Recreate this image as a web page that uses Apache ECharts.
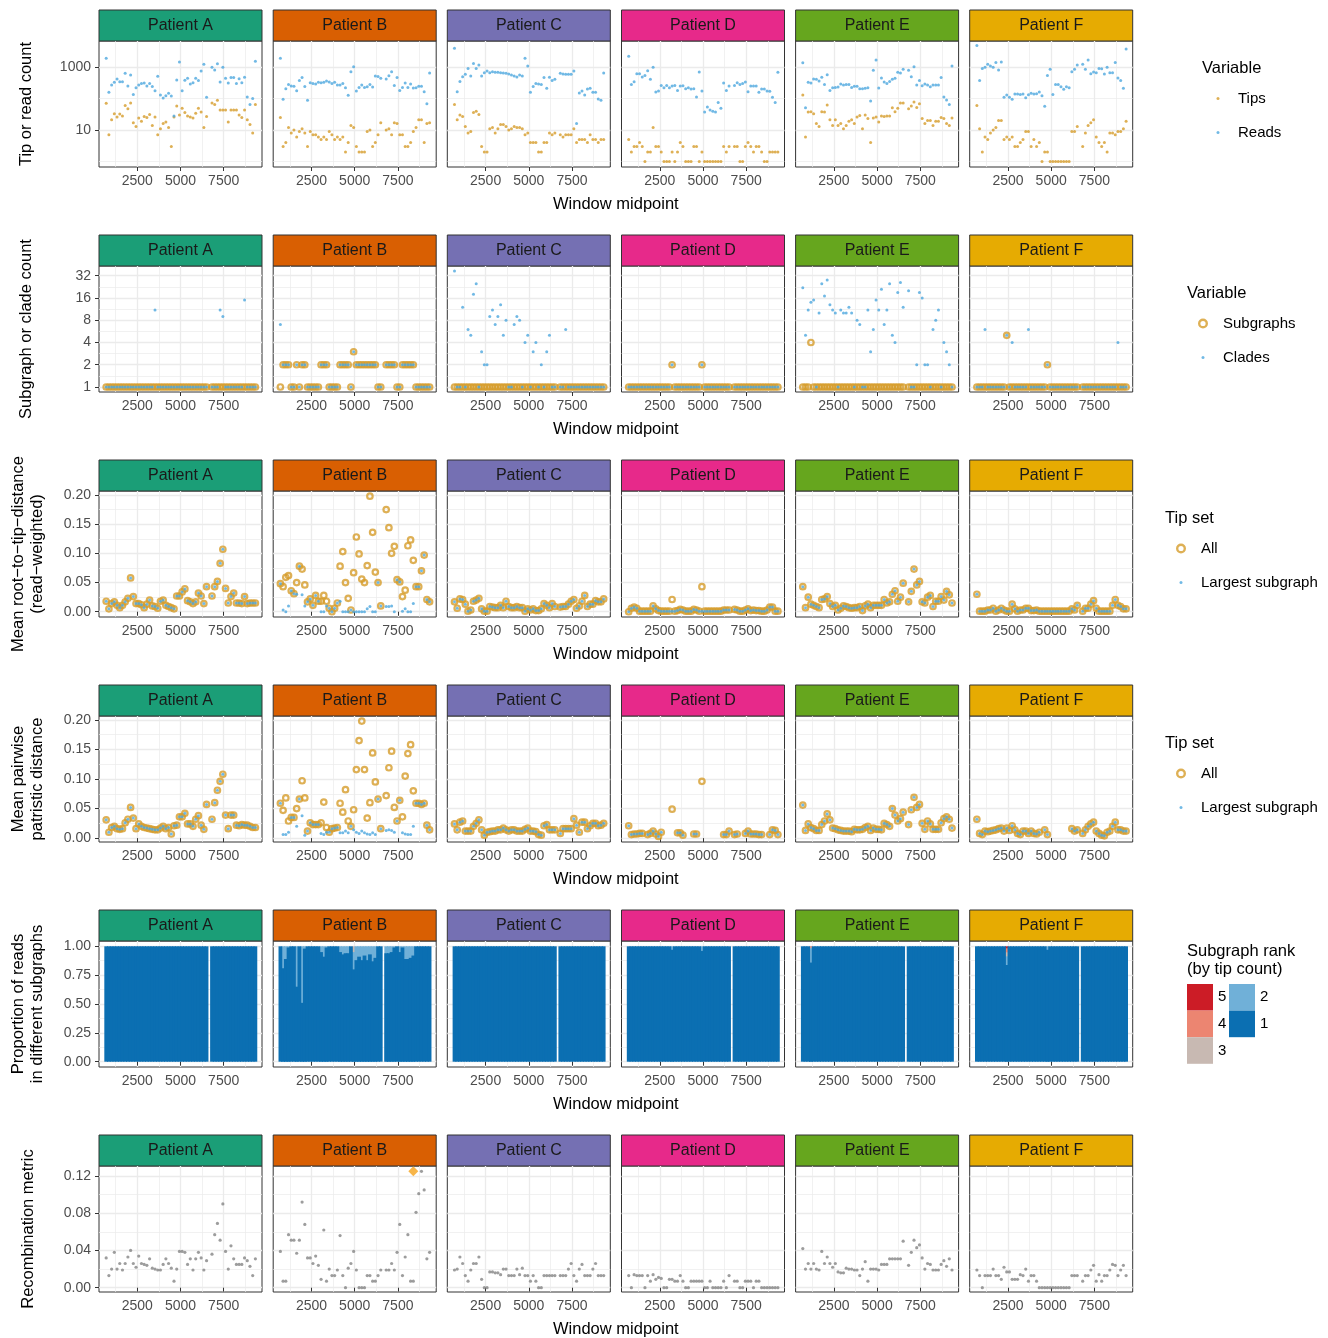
<!DOCTYPE html>
<html lang="en">
<head>
<meta charset="UTF-8">
<title>Window summaries by patient</title>
<script src="https://cdn.jsdelivr.net/npm/echarts@6/dist/echarts.min.js"></script>
<style>html,body{margin:0;background:#fff}#main{width:1328px;height:1338px}</style>
</head>
<body>
<div id="main"></div>
<script type="text/javascript">
// window midpoints (bp); window 38 has no data in any patient
var windowMid = [700,857,1014,1171,1328,1485,1642,1799,1956,2113,2270,2427,2584,2741,2898,3055,3212,3369,3526,3683,3840,3997,4154,4311,4468,4625,4782,4939,5096,5253,5410,5567,5724,5881,6038,6195,6352,6509,6666,6823,6980,7137,7294,7451,7608,7765,7922,8079,8236,8393,8550,8707,8864,9021,9178,9335];
var patients = ['A', 'B', 'C', 'D', 'E', 'F'];
var xTicks = [2500, 5000, 7500];

// row 1: tip and read counts
var tipsA = [70,7,21,33,26,32,28,60,47,72, 17,13,24,19,27,25,31,14,26,7, 11,16,18,12,3,26,58,30,49,36, 28,26,24,34,49,37,12,27, null, 72,65,88,43,43,43,18,43,43,43,30,25,43,21,15,8,65];
var readsA = [1900,157,270,326,415,340,340,630,250,560, 135,220,270,300,310,250,300,240,177,505, 130,104,123,146,120,28,387,1440,177,377, 437,290,318,437,370,746,1215,109, null, 975,800,1276,333,975,437,310,460,460,300,425,318,470,111,65,100,1510];
var tipsB = [25,3,4,12,8,10,6,9,11,8, 3,9,7,7,6,5,6,5,9,7, 5,6,5,6,2,4,14,12,3,2, 2,2,9,10,3,4,7,17, null, 10,11,7,17,16,7,7,3,3,4,9,12,21,21,4,16,17];
var readsB = [1900,95,205,280,250,245,175,370,460,240, 88,318,300,290,326,318,326,360,333,300, 326,270,270,300,220,127,710,1020,172,225, 270,225,235,280,230,520,500,440, null, 415,530,710,260,460,180,225,310,225,290,215,220,245,245,165,68,640];
var tipsC = [65,21,30,27,13,8,9,36,39,31, 3,2,2,11,12,8,11,15,15,13, 10,11,13,12,12,11,7,8,4,4, 4,2,2,4,4,8,7,8, null, 7,6,7,7,7,11,4,5,5,5,4,7,5,5,4,5,5];
var readsC = [3900,165,345,490,585,900,520,1300,900,1160, 520,660,750,660,710,680,680,660,640,630, 600,560,520,480,560,520,1900,1080,157,240, 300,290,280,460,210,470,370,405, null, 630,600,585,585,585,750,16,150,172,130,200,210,157,157,97,88,640];
var tipsD = [5,2,3,3,4,3,1,2,2,12, 3,3,2,1,1,1,2,1,2,4, 3,1,1,1,3,3,1,2,1,1, 1,1,1,1,1,3,2,3, null, 3,3,1,1,3,4,3,2,3,3,2,1,1,2,2,2,2];
var readsD = [2200,280,340,610,610,480,540,765,405,980, 160,172,260,220,260,220,250,260,180,250, 255,205,220,200,205,112,690,172,37,54, 43,39,37,75,49,310,180,250, null, 260,318,280,300,333,165,250,250,250,157,200,200,172,170,110,74,680];
var tipsE = [130,6,37,38,33,16,13,38,37,62, 21,14,21,14,16,11,14,19,21,16, 26,29,11,30,23,4,24,26,18,28, 27,28,28,51,38,49,72,72, null, 47,58,77,52,68,23,16,20,20,14,19,19,25,23,16,14,24];
var readsE = [1370,51,326,310,415,405,360,470,280,570, 180,220,225,230,290,270,280,280,225,245, 245,205,205,210,220,83,785,1670,215,450, 333,300,345,405,437,680,640,845, null, 785,490,1020,270,370,255,290,270,235,270,270,270,460,112,90,65,1080];
var tipsF = [60,11,2,6,5,8,10,12,20,20, 5,6,5,6,3,3,4,5,9,9, 3,5,3,4,1,2,2,1,1,1, 1,1,1,1,1,9,9,13, null, 3,8,14,17,21,6,4,3,4,2,8,8,7,9,9,11,19];
var readsF = [4780,370,900,980,1215,1080,980,1400,800,1440, 109,130,109,95,138,138,135,138,106,132, 146,138,142,160,123,57,540,845,135,280, 280,237,195,237,220,710,845,1160, null, 1215,845,1670,610,690,660,900,885,600,980,660,660,1400,450,375,210,3730];

// row 2: subgraph and clade counts
var subA = [1,1,1,1,1,1,1,1,1,1, 1,1,1,1,1,1,1,1,1,1, 1,1,1,1,1,1,1,1,1,1, 1,1,1,1,1,1,1,1, null, 1,1,1,1,1,1,1,1,1,1,1,1,1,1,1,1,1];
var cladeA = [1,1,1,1,1,1,1,1,1,1, 1,1,1,1,1,1,1,1,11,1, 1,1,1,1,1,1,1,1,1,1, 1,1,1,1,1,1,1,1, null, 1,1,1,11,9,1,1,1,1,1,1,1,15,1,1,1,1];
var subB = [1,2,2,2,1,1,2,1,2,2, 1,1,1,1,1,2,2,2,1,1, 1,1,2,2,2,2,1,3,2,2, 2,2,2,2,2,2,1,1, null, 2,2,2,2,1,1,2,2,2,2,2,1,1,1,1,1,1];
var cladeB = [7,2,2,2,1,1,2,1,2,2, 1,1,1,1,1,2,2,2,1,1, 1,1,2,2,2,2,1,3,2,2, 2,2,2,2,2,2,1,1, null, 2,2,2,2,1,1,2,2,2,2,2,1,1,1,1,1,1];
var subC = [1,1,1,1,1,1,1,1,1,1, 1,1,1,1,1,1,1,1,1,1, 1,1,1,1,1,1,1,1,1,1, 1,1,1,1,1,1,1,1, null, 1,1,1,1,1,1,1,1,1,1,1,1,1,1,1,1,1];
var cladeC = [37,1,1,12,1,6,5,18,25,1, 3,2,2,9,11,7,9,13,5,8, 1,1,7,9,8,1,4,5,1,3, 4,1,2,1,3,5,1,1, null, 1,1,6,1,1,1,1,1,1,1,1,1,1,1,1,1,1];
var subD = [1,1,1,1,1,1,1,1,1,1, 1,1,1,1,1,1,2,1,1,1, 1,1,1,1,1,1,1,2,1,1, 1,1,1,1,1,1,1,1, null, 1,1,1,1,1,1,1,1,1,1,1,1,1,1,1,1,1];
var cladeD = [1,1,1,1,1,1,1,1,1,1, 1,1,1,1,1,1,2,1,1,1, 1,1,1,1,1,1,1,2,1,1, 1,1,1,1,1,1,1,1, null, 1,1,1,1,1,1,1,1,1,1,1,1,1,1,1,1,1];
var subE = [1,1,1,4,1,1,1,1,1,1, 1,1,1,1,1,1,1,1,1,1, 1,1,1,1,1,1,1,1,1,1, 1,1,1,1,1,1,1,1, null, 1,1,1,1,1,1,1,1,1,1,1,1,1,1,1,1,1];
var cladeE = [22,5,11,14,15,1,10,25,17,28, 13,11,10,1,11,10,10,12,10,1, 8,7,1,1,11,3,6,15,11,21, 7,11,25,5,4,19,26,12, null, 20,1,1,2,19,16,2,2,1,6,8,11,1,4,3,2,1];
var subF = [1,1,1,1,1,1,1,1,1,1, 1,5,1,1,1,1,1,1,1,1, 1,1,1,1,1,1,2,1,1,1, 1,1,1,1,1,1,1,1, null, 1,1,1,1,1,1,1,1,1,1,1,1,1,1,1,1,1];
var cladeF = [1,1,1,6,1,1,1,1,1,1, 1,5,1,4,1,1,1,1,1,6, 1,1,1,1,1,1,2,1,1,1, 1,1,1,1,1,1,1,1, null, 1,1,1,1,1,1,1,1,1,1,1,1,1,4,1,1,1];

// row 3: mean root-to-tip distance (all tips / largest subgraph)
var rttA = [0.018,0.005,0.014,0.017,0.011,0.007,0.011,0.017,0.023,0.058, 0.026,0.014,0.014,0.012,0.007,0.013,0.020,0.010,0.009,0.006, 0.018,0.020,0.011,0.009,0.007,0.005,0.027,0.027,0.034,0.039, 0.019,0.017,0.014,0.017,0.032,0.027,0.014,0.043, null, 0.027,0.043,0.052,0.083,0.107,0.040,0.015,0.026,0.032,0.015,0.015,0.014,0.026,0.014,0.015,0.015,0.015];
var rttB = [0.048,0.043,0.059,0.062,0.036,0.031,0.050,0.078,0.073,0.046, 0.017,0.022,0.011,0.028,0.018,0.018,0.028,0.018,0.006,0.000, 0.006,0.015,0.078,0.103,0.050,0.023,0.003,0.067,0.128,0.099, 0.056,0.050,0.079,0.198,0.136,0.068,0.050,0.010, null, 0.175,0.144,0.100,0.112,0.055,0.051,0.026,0.037,0.113,0.123,0.088,0.043,0.043,0.070,0.097,0.021,0.017];
var rttLargestB = [0.048,0.003,0.000,0.010,0.036,0.031,0.030,0.078,0.029,0.010, 0.017,0.022,0.011,0.028,0.018,0.000,0.000,0.010,0.006,0.000, 0.006,0.015,0.018,0.000,0.000,0.000,0.003,0.000,0.000,0.000, 0.000,0.000,0.005,0.009,0.000,0.000,0.050,0.010, null, 0.009,0.009,0.010,0.000,0.055,0.051,0.001,0.005,0.000,0.000,0.014,0.043,0.043,0.070,0.097,0.021,0.017];
var rttC = [0.017,0.006,0.022,0.021,0.013,0.001,0.003,0.018,0.020,0.023, 0.005,0.001,0.001,0.009,0.008,0.007,0.007,0.011,0.007,0.018, 0.009,0.007,0.007,0.009,0.007,0.007,0.001,0.005,0.003,0.005, 0.002,0.002,0.005,0.014,0.011,0.007,0.014,0.009, null, 0.008,0.009,0.009,0.013,0.018,0.021,0.006,0.010,0.018,0.028,0.009,0.013,0.013,0.019,0.017,0.017,0.022];
var rttD = [0.000,0.006,0.008,0.006,0.001,0.001,0.001,0.001,0.001,0.010, 0.005,0.002,0.001,0.001,0.001,0.001,0.021,0.001,0.002,0.004, 0.003,0.001,0.001,0.001,0.004,0.003,0.001,0.043,0.001,0.001, 0.001,0.001,0.001,0.001,0.001,0.003,0.003,0.003, null, 0.004,0.003,0.001,0.001,0.003,0.005,0.002,0.003,0.002,0.002,0.001,0.001,0.003,0.008,0.008,0.001,0.001];
var rttLargestD = [0.000,0.006,0.008,0.006,0.001,0.001,0.001,0.001,0.001,0.010, 0.005,0.002,0.001,0.001,0.001,0.001,0.001,0.001,0.002,0.004, 0.003,0.001,0.001,0.001,0.004,0.003,0.001,0.001,0.001,0.001, 0.001,0.001,0.001,0.001,0.001,0.003,0.003,0.003, null, 0.004,0.003,0.001,0.001,0.003,0.005,0.002,0.003,0.002,0.002,0.001,0.001,0.003,0.008,0.008,0.001,0.001];
var rttE = [0.043,0.007,0.025,0.013,0.011,0.009,0.007,0.021,0.022,0.026, 0.014,0.009,0.011,0.003,0.006,0.010,0.009,0.007,0.006,0.007, 0.007,0.009,0.002,0.010,0.013,0.007,0.011,0.011,0.011,0.011, 0.021,0.015,0.017,0.030,0.036,0.018,0.025,0.049, null, 0.017,0.035,0.073,0.046,0.052,0.017,0.015,0.025,0.028,0.009,0.018,0.018,0.026,0.020,0.035,0.029,0.015];
var rttF = [0.030,0.001,0.001,0.001,0.003,0.003,0.006,0.001,0.003,0.006, 0.003,0.001,0.001,0.013,0.005,0.001,0.003,0.003,0.006,0.006, 0.002,0.002,0.003,0.001,0.001,0.001,0.001,0.001,0.001,0.001, 0.001,0.001,0.001,0.001,0.001,0.005,0.003,0.011, null, 0.001,0.006,0.006,0.013,0.019,0.006,0.001,0.001,0.001,0.001,0.001,0.011,0.021,0.011,0.009,0.005,0.005];

// row 4: mean pairwise patristic distance
var pwA = [0.031,0.010,0.018,0.020,0.016,0.015,0.016,0.026,0.032,0.052, 0.034,0.016,0.024,0.020,0.018,0.017,0.016,0.015,0.014,0.014, 0.017,0.020,0.016,0.018,0.007,0.021,0.022,0.036,0.036,0.042, 0.024,0.024,0.020,0.032,0.038,0.022,0.015,0.057, null, 0.032,0.060,0.081,0.096,0.108,0.039,0.016,0.039,0.039,0.022,0.021,0.023,0.022,0.022,0.020,0.018,0.018];
var pwB = [0.059,0.047,0.068,0.029,0.035,0.035,0.050,0.066,0.097,0.068, 0.012,0.026,0.023,0.023,0.023,0.026,0.061,0.018,0.010,0.016, 0.017,0.018,0.059,0.044,0.082,0.029,0.020,0.048,0.116,0.165, 0.198,0.116,0.034,0.060,0.144,0.095,0.066,0.016, null, 0.072,0.119,0.147,0.052,0.029,0.064,0.036,0.105,0.143,0.158,0.080,0.059,0.059,0.057,0.059,0.022,0.014];
var pwLargestB = [0.059,0.006,0.006,0.010,0.035,0.035,0.020,0.066,0.038,0.005, 0.012,0.026,0.023,0.023,0.023,0.008,0.006,0.010,0.010,0.016, 0.017,0.018,0.009,0.009,0.012,0.009,0.020,0.014,0.010,0.008, 0.012,0.009,0.007,0.006,0.009,0.006,0.066,0.016, null, 0.013,0.014,0.013,0.010,0.029,0.064,0.009,0.007,0.006,0.006,0.020,0.059,0.059,0.057,0.059,0.022,0.014];
var pwC = [0.024,0.014,0.027,0.029,0.012,0.012,0.012,0.020,0.025,0.031, 0.014,0.005,0.010,0.011,0.012,0.012,0.014,0.014,0.017,0.014, 0.012,0.014,0.014,0.012,0.012,0.012,0.015,0.017,0.012,0.012, 0.011,0.006,0.005,0.021,0.023,0.014,0.014,0.014, null, 0.008,0.016,0.016,0.016,0.016,0.033,0.022,0.010,0.027,0.027,0.016,0.021,0.025,0.025,0.021,0.022,0.025];
var pwD = [0.021,0.006,0.007,0.007,0.008,0.008,null,0.006,0.008,0.012, 0.007,0.003,0.010,null,null,null,0.049,null,0.009,0.009, 0.005,null,null,null,0.007,0.007,null,0.096,null,null, null,null,null,null,null,0.006,0.006,0.012, null, 0.006,0.007,null,null,0.008,0.012,0.007,0.007,0.007,0.006,0.006,null,null,0.006,0.014,0.013,0.006];
var pwLargestD = [0.021,0.006,0.007,0.007,0.008,0.008,null,0.006,0.008,0.012, 0.007,0.003,0.010,null,null,null,null,null,0.009,0.009, 0.005,null,null,null,0.007,0.007,null,null,null,null, null,null,null,null,null,0.006,0.006,0.012, null, 0.006,0.007,null,null,0.008,0.012,0.007,0.007,0.007,0.006,0.006,null,null,0.006,0.014,0.013,0.006];
var pwE = [0.056,0.013,0.024,0.018,0.016,0.013,0.013,0.023,0.029,0.041, 0.031,0.017,0.016,0.014,0.013,0.012,0.012,0.012,0.011,0.015, 0.014,0.014,0.015,0.018,0.020,0.013,0.017,0.015,0.015,0.014, 0.025,0.023,0.020,0.050,0.039,0.029,0.033,0.044, null, 0.023,0.048,0.069,0.052,0.057,0.025,0.015,0.029,0.024,0.015,0.015,0.015,0.026,0.033,0.036,0.032,0.017];
var pwF = [0.032,0.008,0.006,0.012,0.011,0.012,0.013,0.014,0.016,0.017, 0.012,0.017,0.013,0.021,0.014,0.008,0.006,0.012,0.012,0.008, 0.012,0.008,0.007,0.010,null,0.014,0.006,null,null,null, null,null,null,null,null,0.016,0.012,0.014, null, 0.008,0.014,0.020,0.024,0.027,0.012,0.008,0.005,0.004,0.010,0.012,0.020,0.027,0.014,0.014,0.012,0.012];

// row 5: read share of subgraphs ranked 2-5 (rank 1 takes the rest)
// [patient, window index, rank, share]
var minorRankShares = [
  ['B',1,2,0.19],['B',2,2,0.11],['B',3,2,0.01],['B',6,2,0.35],['B',8,2,0.49],['B',9,2,0.02],
  ['B',15,2,0.05],['B',16,2,0.09],['B',17,2,0.01],['B',22,2,0.05],['B',23,2,0.07],['B',24,2,0.06],['B',25,2,0.06],
  ['B',27,2,0.15],['B',27,3,0.05],['B',28,2,0.12],['B',29,2,0.09],['B',30,2,0.12],['B',31,2,0.08],['B',32,2,0.12],
  ['B',33,2,0.07],['B',34,2,0.13],['B',35,2,0.10],['B',39,2,0.06],['B',40,2,0.06],['B',41,2,0.05],['B',42,2,0.01],
  ['B',44,2,0.05],['B',45,2,0.01],['B',46,2,0.11],['B',47,2,0.11],['B',48,2,0.10],['B',49,2,0.08],
  ['D',16,2,0.03],['D',27,2,0.04],
  ['E',3,2,0.124],['E',3,3,0.007],['E',3,4,0.01],
  ['F',11,2,0.075],['F',11,3,0.035],['F',11,4,0.035],['F',11,5,0.017],['F',26,2,0.03]
];
var ranks = [5, 4, 3, 2, 1];   // drawing order: highest rank behind

// row 6: recombination metric
var recA = [0.032,0.013,0.020,0.038,0.020,0.026,0.019,0.026,0.033,0.040, 0.026,0.022,0.034,0.026,0.025,0.024,0.031,0.021,0.020,0.019, 0.019,0.025,0.031,0.026,0.021,0.007,0.020,0.039,0.039,0.038, 0.025,0.031,0.019,0.031,0.038,0.032,0.019,0.029, null, 0.036,0.057,0.069,0.051,0.090,0.039,0.020,0.045,0.031,0.025,0.025,0.025,0.032,0.029,0.023,0.013,0.031];
var recB = [0.039,0.007,0.007,0.057,0.051,0.051,0.037,0.051,0.092,0.068, 0.032,0.032,0.026,0.034,0.024,0.009,0.062,0.007,0.020,0.013, 0.013,0.019,0.056,0.013,0.000,0.021,0.026,0.039,0.019,0.000, 0.000,0.000,0.013,0.013,0.007,0.007,0.013,0.019, null, 0.019,0.019,0.026,0.019,0.038,0.068,0.013,0.033,0.057,0.007,0.007,0.081,0.101,0.125,0.105,0.031,0.038];
var recC = [0.019,0.020,0.033,0.026,0.013,0.007,0.019,0.026,0.026,0.033, 0.009,0.000,0.000,0.017,0.017,0.016,0.016,0.014,0.020,0.020, 0.013,0.013,0.013,0.020,0.014,0.021,0.013,0.013,0.007,0.013, 0.007,0.000,0.000,0.013,0.013,0.013,0.013,0.013, null, 0.013,0.013,0.013,0.020,0.026,0.013,0.007,0.020,0.025,0.013,0.013,0.013,0.020,0.026,0.013,0.013,0.013];
var recD = [0.013,0.000,0.014,0.013,0.013,0.013,0.000,0.013,0.007,0.014, 0.009,0.011,0.010,0.000,0.000,0.009,0.009,0.007,0.007,0.013, 0.007,0.000,0.000,0.007,0.007,0.007,0.007,0.007,0.000,0.000, 0.007,0.000,0.000,0.000,0.000,0.007,0.000,0.013, null, 0.007,0.007,0.000,0.000,0.007,0.007,0.007,0.000,0.007,0.007,0.000,0.000,0.000,0.000,0.000,0.000,0.000];
var recE = [0.042,0.020,0.026,0.020,0.026,0.020,0.019,0.039,0.026,0.033, 0.026,0.022,0.026,0.017,0.016,0.016,0.021,0.020,0.020,0.019, 0.019,0.013,0.020,0.028,0.007,0.020,0.020,0.020,0.019,0.025, 0.025,0.025,0.031,0.031,0.031,0.031,0.031,0.050, null, 0.024,0.038,0.051,0.043,0.046,0.032,0.020,0.026,0.025,0.019,0.019,0.019,0.025,0.029,0.023,0.031,0.019];
var recF = [0.019,0.013,0.000,0.013,0.013,0.013,0.020,0.013,0.013,0.009, 0.022,0.017,0.017,0.009,0.009,0.009,0.014,0.013,0.020,0.007, 0.013,0.013,0.007,0.000,0.000,0.000,0.000,0.000,0.000,0.000, 0.000,0.000,0.000,0.000,0.000,0.013,0.013,0.013, null, 0.007,0.013,0.013,0.019,0.024,0.007,0.014,0.007,0.013,0.013,0.019,0.025,0.024,0.013,0.019,0.024,0.013];
var flaggedWindowB = 49;
var flaggedValueB = 0.125;

// lookup tables built from the arrays above
var tips = {A: tipsA, B: tipsB, C: tipsC, D: tipsD, E: tipsE, F: tipsF};
var reads = {A: readsA, B: readsB, C: readsC, D: readsD, E: readsE, F: readsF};
var subgraphs = {A: subA, B: subB, C: subC, D: subD, E: subE, F: subF};
var clades = {A: cladeA, B: cladeB, C: cladeC, D: cladeD, E: cladeE, F: cladeF};
var rttAll = {A: rttA, B: rttB, C: rttC, D: rttD, E: rttE, F: rttF};
var rttLargest = {A: rttA, B: rttLargestB, C: rttC, D: rttLargestD, E: rttE, F: rttF};
var pwAll = {A: pwA, B: pwB, C: pwC, D: pwD, E: pwE, F: pwF};
var pwLargest = {A: pwA, B: pwLargestB, C: pwC, D: pwLargestD, E: pwE, F: pwF};
var recomb = {A: recA, B: recB, C: recC, D: recD, E: recE, F: recF};

// styling
var FONT = '"Liberation Sans", Arial, sans-serif';
var ORANGE = '#D69C2A', BLUE = '#4DA7DE', GREY = '#858585';
var stripColors = ['#1B9E77', '#D95F02', '#7570B3', '#E7298A', '#66A61E', '#E6AB02'];
var rankColors = {1: '#0B6FB2', 2: '#70B0D8', 3: '#C8B9B2', 4: '#EC8571', 5: '#CC1C26'};
var gridLefts = [99, 273.2, 447.3, 621.5, 795.6, 969.7];
var rowTops = [41, 266, 491, 716, 941, 1166];
var PW = 163, PH = 126, STRIP = 31;
var X_MIN = 284, X_MAX = 9717;
var xMinor = [1250, 3750, 6250, 8750];

var rowAxes = [
  {title: 'Tip or read count', gap: 63, type: 'log', base: 10, min: 0.668, max: 6683, major: [10, 1000], minor: [1, 100]},
  {title: 'Subgraph or clade count', gap: 63, type: 'log', base: 2, min: 0.856, max: 43.3, major: [1, 2, 4, 8, 16, 32], minor: [1.414, 2.828, 5.657, 11.31, 22.63]},
  {title: 'Mean root\u2212to\u2212tip\u2212distance\n(read\u2212weighted)', gap: 52, type: 'value', min: -0.009, max: 0.2068, major: [0, 0.05, 0.1, 0.15, 0.2], minor: [0.025, 0.075, 0.125, 0.175]},
  {title: 'Mean pairwise\npatristic distance', gap: 52, type: 'value', min: -0.0065, max: 0.2065, major: [0, 0.05, 0.1, 0.15, 0.2], minor: [0.025, 0.075, 0.125, 0.175]},
  {title: 'Proportion of reads\nin different subgraphs', gap: 52, type: 'value', min: -0.046, max: 1.046, major: [0, 0.25, 0.5, 0.75, 1], minor: [0.125, 0.375, 0.625, 0.875]},
  {title: 'Recombination metric', gap: 61, type: 'value', min: -0.0046, max: 0.1307, major: [0, 0.04, 0.08, 0.12], minor: [0.02, 0.06, 0.1]}
];

function pts(arr) {
  var out = [];
  arr.forEach(function (v, k) { if (v != null) out.push([windowMid[k], v]); });
  return out;
}

var ringIcon = 'path://M0,0M14,14M2,7a5,5 0 1,0 10,0a5,5 0 1,0 -10,0zM4.4,7a2.6,2.6 0 1,1 5.2,0a2.6,2.6 0 1,1 -5.2,0z';
var dotIcon = 'path://M0,0M14,14M5.5,7a1.5,1.5 0 1,0 3,0a1.5,1.5 0 1,0 -3,0z';
var ringStyle = {color: 'rgba(0,0,0,0)', borderColor: ORANGE, borderWidth: 2.2};
var majorLine = {color: '#EBEBEB', width: 1.3};
var minorLine = {color: '#EBEBEB', width: 0.7};

var option = {
  animation: false,
  backgroundColor: '#ffffff',
  textStyle: {fontFamily: FONT},
  grid: [], xAxis: [], yAxis: [], series: [], legend: [], graphic: []
};

rowAxes.forEach(function (ra, r) {
  patients.forEach(function (p, c) {
    var g = option.grid.length;
    var left = gridLefts[c], top = rowTops[r];
    option.grid.push({left: left, top: top, width: PW, height: PH, show: true,
      borderColor: '#333333', borderWidth: 1, backgroundColor: '#ffffff'});

    option.xAxis.push({gridIndex: g, type: 'value', position: 'bottom', min: X_MIN, max: X_MAX,
      axisLine: {show: false},
      axisTick: {show: true, customValues: xTicks, length: 4, lineStyle: {color: '#333333', width: 1}},
      axisLabel: {customValues: xTicks, formatter: function (v) { return String(Math.round(v)); },
        color: '#4D4D4D', fontSize: 14, margin: 7, fontFamily: FONT},
      splitLine: {show: true, lineStyle: majorLine}});
    option.xAxis.push({gridIndex: g, type: 'value', position: 'top', min: X_MIN, max: X_MAX,
      axisLine: {show: false}, axisTick: {show: false, customValues: xMinor}, axisLabel: {show: false},
      splitLine: {show: true, lineStyle: minorLine}});

    var fmt = ra.type === 'log'
      ? function (v) { return String(Math.round(v)); }
      : function (v) { return v.toFixed(2); };
    var yMajor = {gridIndex: g, type: ra.type, position: 'left', min: ra.min, max: ra.max,
      axisLine: {show: false},
      axisTick: {show: c === 0, customValues: ra.major, length: 4, lineStyle: {color: '#333333', width: 1}},
      axisLabel: {show: c === 0, customValues: ra.major, formatter: fmt, color: '#4D4D4D', fontSize: 14, margin: 8, fontFamily: FONT},
      splitLine: {show: true, lineStyle: majorLine}};
    var yMinor = {gridIndex: g, type: ra.type, position: 'right', min: ra.min, max: ra.max,
      axisLine: {show: false}, axisTick: {show: false, customValues: ra.minor}, axisLabel: {show: false},
      splitLine: {show: true, lineStyle: minorLine}};
    if (ra.type === 'log') { yMajor.logBase = ra.base; yMinor.logBase = ra.base; }
    if (c === 0) {
      yMajor.name = ra.title;
      yMajor.nameLocation = 'middle';
      yMajor.nameRotate = 90;
      yMajor.nameGap = ra.gap;
      yMajor.nameTextStyle = {fontSize: 16.5, color: '#000000', lineHeight: 19, fontFamily: FONT};
    }
    option.yAxis.push(yMajor, yMinor);

    var ax = {xAxisIndex: 2 * g, yAxisIndex: 2 * g, silent: true};
    function scatter(name, arr, size, style) {
      return Object.assign({type: 'scatter', name: name, data: pts(arr), symbolSize: size, itemStyle: style}, ax);
    }

    if (r === 0) {
      option.series.push(scatter('Tips', tips[p], 3, {color: ORANGE}));
      option.series.push(scatter('Reads', reads[p], 3, {color: BLUE}));
    } else if (r === 1) {
      option.series.push(scatter('Subgraphs', subgraphs[p], 5.5, ringStyle));
      option.series.push(scatter('Clades', clades[p], 3, {color: BLUE}));
    } else if (r === 2) {
      option.series.push(scatter('All', rttAll[p], 5.5, ringStyle));
      option.series.push(scatter('Largest subgraph', rttLargest[p], 3, {color: BLUE}));
    } else if (r === 3) {
      option.series.push(scatter('All', pwAll[p], 5.5, ringStyle));
      option.series.push(scatter('Largest subgraph', pwLargest[p], 3, {color: BLUE}));
    } else if (r === 4) {
      var shares = {};
      minorRankShares.forEach(function (row) {
        if (row[0] !== p) return;
        shares[row[1]] = shares[row[1]] || {};
        shares[row[1]][row[2]] = row[3];
      });
      // each bar runs from 0 to the cumulative share of ranks 1..rank; lower ranks drawn on top
      ranks.forEach(function (rank) {
        var data = [];
        windowMid.forEach(function (x, k) {
          if (reads[p][k] == null) return;
          var s = shares[k] || {};
          if (rank > 1 && !s[rank]) { data.push([x, null]); return; }
          var above = 0;
          for (var j = rank + 1; j <= 5; j++) above += (s[j] || 0);
          data.push([x, 1 - above]);
        });
        option.series.push(Object.assign({type: 'bar', name: String(rank), barWidth: 3.75, barGap: '-100%',
          data: data, itemStyle: {color: rankColors[rank]}}, ax));
      });
    } else {
      option.series.push(scatter('Recombination metric', recomb[p], 3.2, {color: GREY}));
      if (p === 'B') {
        option.series.push(Object.assign({type: 'scatter', name: 'Flagged window',
          data: [[windowMid[flaggedWindowB], flaggedValueB]], symbol: 'diamond', symbolSize: 10,
          itemStyle: {color: '#F5A21B'}}, ax));
      }
    }

    // facet strip
    option.graphic.push({type: 'rect', silent: true,
      shape: {x: left, y: top - STRIP, width: PW, height: STRIP},
      style: {fill: stripColors[c], stroke: '#333333', lineWidth: 1}});
    option.graphic.push({type: 'text', silent: true, x: left + PW / 2, y: top - STRIP / 2,
      style: {text: 'Patient ' + p, fill: '#1A1A1A', fontSize: 16, fontFamily: FONT, align: 'center', verticalAlign: 'middle'}});
  });

  option.graphic.push({type: 'text', silent: true, x: (gridLefts[0] + gridLefts[5] + PW) / 2, y: rowTops[r] + PH + 37,
    style: {text: 'Window midpoint', fill: '#000000', fontSize: 16.5, fontFamily: FONT, align: 'center', verticalAlign: 'middle'}});
});

// legends
var legendText = {fontSize: 15, color: '#000000', lineHeight: 14, fontFamily: FONT, padding: [0, 0, 0, 3]};
function pointLegend(items, left, top) {
  return {orient: 'vertical', left: left, top: top, padding: 0, itemWidth: 24, itemHeight: 14, itemGap: 19,
    selectedMode: false, textStyle: legendText, data: items};
}
var ringItem = function (name) { return {name: name, icon: ringIcon, itemStyle: {color: ORANGE, borderWidth: 0}}; };
var dotItem = function (name) { return {name: name, icon: dotIcon, itemStyle: {borderWidth: 0}}; };
option.legend.push(pointLegend([dotItem('Tips'), dotItem('Reads')], 1211, 91));
option.legend.push(pointLegend([ringItem('Subgraphs'), dotItem('Clades')], 1196, 316));
option.legend.push(pointLegend([ringItem('All'), dotItem('Largest subgraph')], 1174, 541));
option.legend.push(pointLegend([ringItem('All'), dotItem('Largest subgraph')], 1174, 766));
var rankText = {fontSize: 15, color: '#000000', fontFamily: FONT};
option.legend.push({orient: 'vertical', left: 1187, top: 984, padding: 0, itemWidth: 26, itemHeight: 26.6, itemGap: 0,
  icon: 'rect', selectedMode: false, textStyle: rankText, data: ['5', '4', '3']});
option.legend.push({orient: 'vertical', left: 1229, top: 984, padding: 0, itemWidth: 26, itemHeight: 26.6, itemGap: 0,
  icon: 'rect', selectedMode: false, textStyle: rankText, data: ['2', '1']});

var legendTitles = [
  ['Variable', 1202, 68], ['Variable', 1187, 293], ['Tip set', 1165, 518], ['Tip set', 1165, 743],
  ['Subgraph rank\n(by tip count)', 1187, 960]
];
legendTitles.forEach(function (t) {
  option.graphic.push({type: 'text', silent: true, x: t[1], y: t[2],
    style: {text: t[0], fill: '#000000', fontSize: 16.5, lineHeight: 18, fontFamily: FONT, align: 'left', verticalAlign: 'middle'}});
});

var myChart = echarts.init(document.getElementById('main'));
myChart.setOption(option);
</script>
</body>
</html>
